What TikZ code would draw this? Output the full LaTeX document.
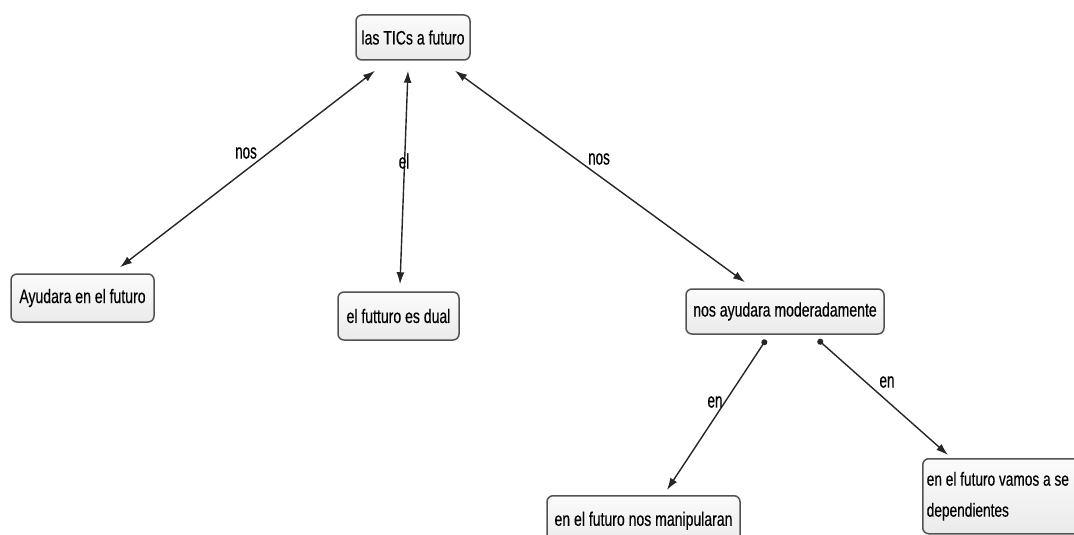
\documentclass[tikz,border=0pt]{standalone}
\usepackage{fontspec}
\setmainfont{Liberation Sans}[FakeStretch=0.72,FakeBold=0.3]
\newfontfamily\linkfont{Liberation Sans}[FakeStretch=0.64,FakeBold=0.4]
\usepackage{tikz}
\usetikzlibrary{positioning,arrows.meta}
\tikzset{
  concept/.style={draw=black!68, line width=1.5pt, rounded corners=6pt,
    top color=gray!3, bottom color=gray!16, inner sep=4pt, text=black,
    font=\fontsize{19.5}{23}\selectfont},
  link/.style={font=\linkfont\fontsize{21}{24}\selectfont, inner sep=0pt, text=black},
  twoway/.style={{Latex[length=12pt,width=8pt]}-{Latex[length=12pt,width=8pt]}, line width=1.4pt, draw=black!85},
  oneway/.style={{Circle[length=6pt]}-{Latex[length=12pt,width=8pt]}, line width=1.4pt, draw=black!85}
}
\begin{document}
\begin{tikzpicture}[x=1pt,y=-1pt]
  \clip (0,0) rectangle (1074,535);
  \useasboundingbox (0,0) rectangle (1074,535);

  \node[concept, minimum width=114pt, minimum height=45pt] (tics) at (413,37.5) {las TICs a futuro};
  \node[concept, minimum width=143pt, minimum height=48pt] (ayuda) at (82.5,298) {Ayudara en el futuro};
  \node[concept, minimum width=121pt, minimum height=48pt] (dual) at (398.5,316) {el futturo es dual};
  \node[concept, minimum width=198pt, minimum height=45pt] (moder) at (785,311.5) {nos ayudara moderadamente};
  \node[concept, minimum width=193pt, minimum height=50pt, anchor=north] (manip) at (643.5,495) {en el futuro nos manipularan};
  \node[concept, anchor=north west, text width=190pt, minimum height=75pt, align=flush left,
    font=\fontsize{19}{31}\selectfont] (depen) at (922,458) {en el futuro vamos a se\\dependientes};

  \draw[twoway] ([xshift=-38pt,yshift=-10pt]tics.south) -- ([xshift=37.5pt,yshift=6pt]ayuda.north);
  \draw[twoway] ([xshift=-5pt,yshift=-10pt]tics.south) -- ([xshift=1.5pt,yshift=7pt]dual.north);
  \draw[twoway] ([xshift=42pt,yshift=-10pt]tics.south) -- ([xshift=-40pt,yshift=6pt]moder.north);

  \draw[oneway] ([xshift=-19pt,yshift=-5pt]moder.south) -- ([xshift=23.5pt,yshift=5pt]manip.north);
  \draw[oneway] ([xshift=33pt,yshift=-5pt]moder.south) -- ([xshift=26pt,yshift=3pt]depen.north west);

  \node[link] (nosa) at (246,153) {nos};
  \node[link] (ela) at (404,161) {el};
  \node[link] (nosb) at (599,159) {nos};
  \node[link] (ena) at (715,402) {en};
  \node[link] (enb) at (887,382) {en};
\end{tikzpicture}
\end{document}
